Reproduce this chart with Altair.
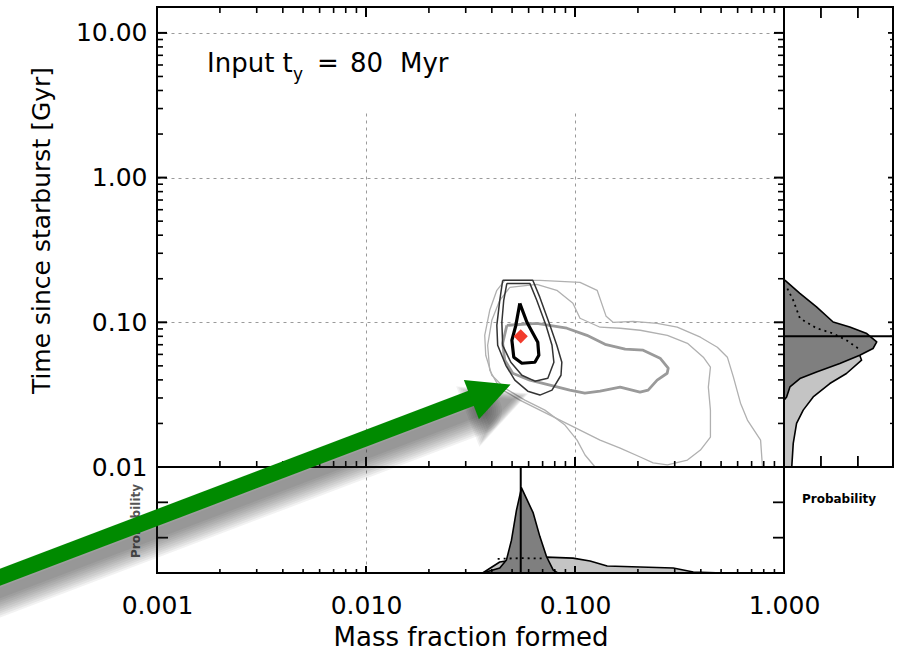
import altair as alt
import numpy as np
import pandas as pd

FONT = "DejaVu Sans"

# ---------------- joint posterior contours (log10 mass fraction, log10 age [Gyr]) ----------------
c1_logm = [-1.264, -1.230, -1.178, -1.173, -1.192, -1.254, -1.293, -1.302, -1.283, -1.264]
c1_logt = [-0.869, -1.000, -1.138, -1.228, -1.276, -1.283, -1.241, -1.124, -1.021, -0.869]

c2_logm = [-1.346, -1.202, -1.168, -1.120, -1.087, -1.063, -1.067, -1.110, -1.168, -1.226,
           -1.288, -1.331, -1.370, -1.374, -1.360, -1.346]
c2_logt = [-0.710, -0.710, -0.828, -1.021, -1.159, -1.276, -1.366, -1.469, -1.503, -1.476,
           -1.400, -1.297, -1.159, -1.021, -0.848, -0.710]

c3_logm = [-1.326, -1.216, -1.183, -1.139, -1.110, -1.101, -1.130, -1.192, -1.254, -1.307,
           -1.346, -1.350, -1.341, -1.326]
c3_logt = [-0.731, -0.731, -0.848, -1.021, -1.159, -1.276, -1.386, -1.407, -1.366, -1.276,
           -1.159, -1.000, -0.848, -0.731]

g_logm = [-1.326, -1.183, -1.039, -0.943, -0.856, -0.760, -0.674, -0.593, -0.554, -0.559,
          -0.607, -0.650, -0.689, -0.784, -0.880, -0.953, -1.025, -1.120, -1.216, -1.298,
          -1.336, -1.346, -1.326]
g_logt = [-1.021, -1.007, -1.041, -1.090, -1.152, -1.186, -1.193, -1.248, -1.317, -1.352,
          -1.400, -1.469, -1.483, -1.448, -1.476, -1.490, -1.469, -1.434, -1.400, -1.352,
          -1.262, -1.145, -1.021]

l1_logm = [-0.904, -0.952, -0.990, -1.048, -1.144, -1.240, -1.336, -1.398, -1.427, -1.432,
           -1.408, -1.374, -1.336, -1.168, -0.976, -0.894, -0.851, -0.818, -0.722, -0.607,
           -0.511, -0.400, -0.319, -0.271, -0.242, -0.208, -0.175, -0.112, -0.103]
l1_logt = [-2.000, -1.917, -1.814, -1.710, -1.607, -1.538, -1.455, -1.366, -1.228, -1.090,
           -0.917, -0.779, -0.710, -0.710, -0.724, -0.779, -0.959, -1.000, -0.993, -1.007,
           -1.034, -1.103, -1.172, -1.241, -1.379, -1.559, -1.676, -1.814, -2.000]

l2_logm = [-1.312, -1.183, -1.087, -1.010, -0.976, -0.880, -0.784, -0.688, -0.558, -0.462,
           -0.386, -0.352, -0.362, -0.352, -0.352, -0.400, -0.462, -0.558, -0.626, -0.688,
           -0.784, -0.880, -0.976, -1.072, -1.168, -1.264, -1.360, -1.408, -1.418, -1.398,
           -1.360, -1.312]
l2_logt = [-0.759, -0.738, -0.779, -0.869, -0.972, -1.034, -1.041, -1.055, -1.090, -1.145,
           -1.241, -1.310, -1.448, -1.607, -1.793, -1.883, -1.952, -1.986, -1.972, -1.931,
           -1.869, -1.814, -1.745, -1.676, -1.607, -1.538, -1.455, -1.331, -1.159, -0.986,
           -0.848, -0.759]

# input model
input_mass = [0.055]
input_age = [0.080]

# ---------------- marginal: mass fraction ----------------
mx_dark_logm = [-1.442, -1.360, -1.328, -1.304, -1.280, -1.256, -1.200, -1.168, -1.136, -1.104, -1.082]
mx_dark_p = [0.0, 0.014, 0.037, 0.093, 0.178, 0.241, 0.170, 0.103, 0.046, 0.008, 0.0]
mx_light_logm = [-1.442, -1.360, -1.264, -1.139, -1.010, -0.928, -0.846, -0.688, -0.530, -0.434, -0.290, -0.208]
mx_light_p = [0.0, 0.031, 0.040, 0.045, 0.042, 0.034, 0.020, 0.017, 0.014, 0.003, 0.0, 0.0]
mx_dot_logm = [-1.370, -1.264, -1.144]
mx_dot_p = [0.040, 0.042, 0.041]

# ---------------- marginal: time since starburst ----------------
ty_dark_logt = [-0.710, -0.800, -0.894, -0.998, -1.032, -1.078, -1.136, -1.181, -1.228, -1.285,
                -1.343, -1.389, -1.447, -1.516, -1.538]
ty_dark_p = [0.003, 0.043, 0.088, 0.133, 0.178, 0.224, 0.251, 0.241, 0.205, 0.151,
             0.088, 0.043, 0.016, 0.007, 0.0]
ty_light_logt = [-0.710, -0.848, -0.986, -1.124, -1.228, -1.262, -1.354, -1.423, -1.516, -1.607,
                 -1.699, -1.837, -2.000]
ty_light_p = [0.0, 0.020, 0.060, 0.150, 0.205, 0.210, 0.169, 0.124, 0.079, 0.052, 0.034, 0.025, 0.021]
ty_dot_logt = [-0.756, -0.848, -0.972, -1.041, -1.076, -1.124, -1.179]
ty_dot_p = [0.007, 0.025, 0.043, 0.088, 0.132, 0.169, 0.200]

# axis tick values
x_major = [0.001, 0.01, 0.1, 1.0]
x_minor = [k * d for d in (0.001, 0.01, 0.1) for k in range(2, 10)]
y_major = [0.01, 0.1, 1.0, 10.0]
y_minor = [k * d for d in (0.01, 0.1, 1.0) for k in range(2, 10)]
p_ticks = [0.1, 0.2]

# ---------------- layout (pixels) ----------------
W_MAIN, H_MAIN = 627, 460
W_ALL, H_ALL = 736, 566

MX = alt.Scale(type="log", domain=[0.001, 1.0], range=[0, W_MAIN], nice=False)
MY = alt.Scale(type="log", domain=[0.01, 15.1], range=[H_MAIN, 0], nice=False)
BY = alt.Scale(type="linear", domain=[0, 0.3], range=[H_ALL, H_MAIN], nice=False)
RX = alt.Scale(type="linear", domain=[0, 0.295], range=[W_MAIN, W_ALL], nice=False)


def path_frame(name, logm, logt):
    return pd.DataFrame({"contour": name, "k": np.arange(len(logm)),
                         "m": np.power(10.0, logm), "t": np.power(10.0, logt)})


contours = pd.concat([
    path_frame("l1", l1_logm, l1_logt),
    path_frame("l2", l2_logm, l2_logt),
    path_frame("g", g_logm, g_logt),
    path_frame("c2", c2_logm, c2_logt),
    path_frame("c3", c3_logm, c3_logt),
    path_frame("c1", c1_logm, c1_logt),
], ignore_index=True)

x_axis = alt.Axis(values=x_major, format=".3f", orient="bottom", grid=True,
                  gridDash=[3, 4], gridColor="#9a9a9a", gridWidth=1,
                  ticks=False, tickSize=0, domain=False, labelFlush=False, labelOverlap=False,
                  labelFont=FONT, labelFontSize=25, labelColor="black", labelPadding=20,
                  title="Mass fraction formed", titleFont=FONT, titleFontSize=26,
                  titleFontWeight="normal", titleColor="black",
                  titleY=72, titleBaseline="alphabetic")
y_axis = alt.Axis(values=y_major, format=".2f", orient="left", grid=True,
                  gridDash=[3, 4], gridColor="#9a9a9a", gridWidth=1,
                  ticks=False, tickSize=0, domain=False, labelFlush=False, labelOverlap=False,
                  labelFont=FONT, labelFontSize=25, labelColor="black", labelPadding=10,
                  title="Time since starburst [Gyr]", titleFont=FONT, titleFontSize=25,
                  titleFontWeight="normal", titleColor="black",
                  titleX=-108, titleY=223, titleBaseline="alphabetic")


def contour_layer(names, color, width, with_axes=False):
    return alt.Chart(contours).transform_filter(
        alt.FieldOneOfPredicate(field="contour", oneOf=names)
    ).mark_line(color=color, strokeWidth=width, strokeJoin="round").encode(
        x=alt.X("m:Q", scale=MX, axis=x_axis if with_axes else None),
        y=alt.Y("t:Q", scale=MY, axis=y_axis if with_axes else None),
        order="k:Q",
        detail="contour:N",
    )


# bottom marginal
mx_dark = pd.DataFrame({"m": np.power(10.0, mx_dark_logm), "p": mx_dark_p})
mx_light = pd.DataFrame({"m": np.power(10.0, mx_light_logm), "p": mx_light_p})
mx_dot = pd.DataFrame({"m": np.power(10.0, mx_dot_logm), "p": mx_dot_p})


def bottom_area(df, fill):
    return alt.Chart(df).mark_area(fill=fill, stroke="black", strokeWidth=1.6,
                                   strokeJoin="round").encode(
        x=alt.X("m:Q", scale=MX, axis=None),
        y=alt.Y("p:Q", scale=BY, axis=None),
    )


# right marginal
ty_dark = pd.DataFrame({"t": np.power(10.0, ty_dark_logt), "p": ty_dark_p})
ty_light = pd.DataFrame({"t": np.power(10.0, ty_light_logt), "p": ty_light_p})
ty_dot = pd.DataFrame({"t": np.power(10.0, ty_dot_logt), "p": ty_dot_p})


def right_area(df, fill):
    return alt.Chart(df).mark_area(orient="horizontal", fill=fill, stroke="black",
                                   strokeWidth=1.6, strokeJoin="round").encode(
        x=alt.X("p:Q", scale=RX, axis=None),
        y=alt.Y("t:Q", scale=MY, axis=None),
    )


DOT = dict(color="black", strokeWidth=1.8, strokeDash=[2, 4])

bottom_dots = alt.Chart(mx_dot).mark_line(**DOT).encode(
    x=alt.X("m:Q", scale=MX, axis=None), y=alt.Y("p:Q", scale=BY, axis=None))
right_dots = alt.Chart(ty_dot).mark_line(**DOT).encode(
    x=alt.X("p:Q", scale=RX, axis=None), y=alt.Y("t:Q", scale=MY, axis=None), order="t:Q")

truth = pd.DataFrame({"m": input_mass, "t": input_age})
diamond = alt.Chart(truth).mark_point(shape="diamond", filled=True, color="#f23b2c",
                                      size=200, opacity=1).encode(
    x=alt.X("m:Q", scale=MX, axis=None), y=alt.Y("t:Q", scale=MY, axis=None))
mass_rule = alt.Chart(truth).mark_rule(color="black", strokeWidth=2).encode(
    x=alt.X("m:Q", scale=MX, axis=None), x2="m:Q",
    y=alt.value(H_MAIN), y2=alt.value(H_ALL))
age_rule = alt.Chart(truth).mark_rule(color="black", strokeWidth=2).encode(
    y=alt.Y("t:Q", scale=MY, axis=None), y2="t:Q",
    x=alt.value(W_MAIN), x2=alt.value(W_ALL))

ONE = alt.Data(values=[{}])


def frame(x0, x1, y0, y1):
    return alt.Chart(ONE).mark_rect(fillOpacity=0, stroke="black", strokeWidth=2).encode(
        x=alt.value(x0), x2=alt.value(x1), y=alt.value(y0), y2=alt.value(y1))


# inward frame ticks: short segments with both ends given
def xticks(vals, scale, y0, y1, w):
    return alt.Chart(pd.DataFrame({"v": vals})).mark_rule(color="black", strokeWidth=w).encode(
        x=alt.X("v:Q", scale=scale, axis=None), x2="v:Q",
        y=alt.value(y0), y2=alt.value(y1))


def yticks(vals, scale, x0, x1, w):
    return alt.Chart(pd.DataFrame({"v": vals})).mark_rule(color="black", strokeWidth=w).encode(
        y=alt.Y("v:Q", scale=scale, axis=None), y2="v:Q",
        x=alt.value(x0), x2=alt.value(x1))


MAJ, MIN = 10, 6
ticks = [
    xticks(x_major, MX, 0, MAJ, 2.0), xticks(x_minor, MX, 0, MIN, 1.6),
    xticks(x_major, MX, H_MAIN - MAJ, H_MAIN, 2.0), xticks(x_minor, MX, H_MAIN - MIN, H_MAIN, 1.6),
    xticks(x_major, MX, H_ALL - 7, H_ALL, 2.0), xticks(x_minor, MX, H_ALL - 4, H_ALL, 1.6),
    yticks(y_major, MY, 0, MAJ, 2.0), yticks(y_minor, MY, 0, MIN, 1.6),
    yticks(y_major, MY, W_MAIN - MAJ, W_MAIN, 2.0), yticks(y_minor, MY, W_MAIN - MIN, W_MAIN, 1.6),
    yticks(y_major, MY, W_ALL - 5, W_ALL, 1.8), yticks(y_minor, MY, W_ALL - 3, W_ALL, 1.4),
    yticks(p_ticks, BY, 0, 11, 1.8), yticks(p_ticks, BY, W_MAIN - 11, W_MAIN, 1.8),
    xticks(p_ticks, RX, 0, 11, 1.8), xticks(p_ticks, RX, H_MAIN - 11, H_MAIN, 1.8),
]


def label(text, x, y, size, **kw):
    return alt.Chart(ONE).mark_text(text=text, font=FONT, fontSize=size, **kw).encode(
        x=alt.value(x), y=alt.value(y))


texts = [
    label("Input t", 50, 65, 26, align="left", baseline="alphabetic", color="black"),
    label("y", 136, 73, 17, align="left", baseline="alphabetic", color="black"),
    label("=", 160, 65, 26, align="left", baseline="alphabetic", color="black"),
    label("80", 193, 65, 26, align="left", baseline="alphabetic", color="black"),
    label("Myr", 243, 65, 26, align="left", baseline="alphabetic", color="black"),
    label("Probability", -21, 514, 12, align="center", baseline="middle", angle=270,
          fontWeight="bold", color="#555555"),
    label("Probability", 682, 492, 12, align="center", baseline="middle",
          fontWeight="bold", color="black"),
]

# green pointer with a soft drop shadow
GREEN = "#008a00"
SHAFT = dict(x0=-172, y0=576, x1=315, y1=391)
HEAD = dict(x=334, y=385, angle=339, size=1764)
TRI = "M -1 -1 L 1 0 L -1 1 Z"
SH_DX, SH_DY = 7, 13

shadow = []
for w in range(46, 6, -4):
    shadow.append(alt.Chart(ONE).mark_rule(color="#222222", strokeWidth=w, opacity=0.06,
                                           strokeCap="round").encode(
        x=alt.value(SHAFT["x0"] + SH_DX), y=alt.value(SHAFT["y0"] + SH_DY),
        x2=alt.value(SHAFT["x1"] + SH_DX), y2=alt.value(SHAFT["y1"] + SH_DY)))
for s in range(4200, 600, -400):
    shadow.append(alt.Chart(ONE).mark_point(shape=TRI, filled=True, color="#222222",
                                            size=s, opacity=0.06, angle=HEAD["angle"],
                                            strokeWidth=0).encode(
        x=alt.value(HEAD["x"] + SH_DX), y=alt.value(HEAD["y"] + SH_DY)))

shaft = alt.Chart(ONE).mark_rule(color=GREEN, strokeWidth=16, strokeCap="butt").encode(
    x=alt.value(SHAFT["x0"]), y=alt.value(SHAFT["y0"]),
    x2=alt.value(SHAFT["x1"]), y2=alt.value(SHAFT["y1"]))
head = alt.Chart(ONE).mark_point(shape=TRI, filled=True, color=GREEN, size=HEAD["size"],
                                 opacity=1, angle=HEAD["angle"], strokeWidth=0).encode(
    x=alt.value(HEAD["x"]), y=alt.value(HEAD["y"]))

layers = [
    contour_layer(["l1", "l2"], "#b0b0b0", 1.3, with_axes=True),
    contour_layer(["g"], "#9a9a9a", 2.8),
    contour_layer(["c2", "c3"], "#333333", 1.5),
    contour_layer(["c1"], "black", 3.2),
    diamond,
    bottom_area(mx_light, "#c4c4c4"),
    bottom_area(mx_dark, "#7f7f7f"),
    bottom_dots,
    mass_rule,
    right_area(ty_light, "#c4c4c4"),
    right_area(ty_dark, "#7f7f7f"),
    right_dots,
    age_rule,
    frame(0, W_MAIN, 0, H_MAIN),
    frame(0, W_MAIN, H_MAIN, H_ALL),
    frame(W_MAIN, W_ALL, 0, H_MAIN),
    *ticks,
    *texts,
    *shadow,
    shaft,
    head,
]

chart = alt.layer(*layers).resolve_scale(x="independent", y="independent").properties(
    width=W_ALL, height=H_ALL,
    padding={"left": 157, "top": 7, "right": 8, "bottom": 82},
    autosize=alt.AutoSizeParams(type="none"),
    background="white",
).configure_view(strokeWidth=0)

chart.save("out.html", embed_options={"renderer": "svg", "actions": False})
